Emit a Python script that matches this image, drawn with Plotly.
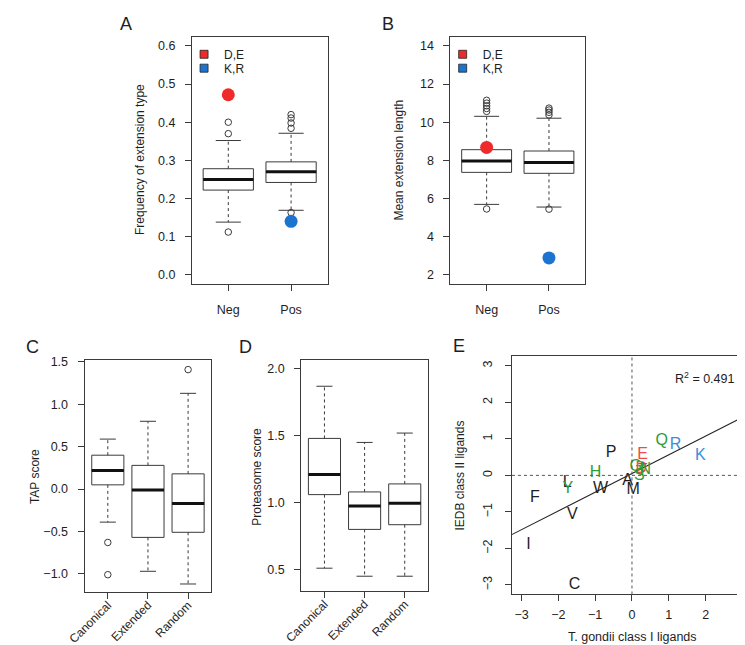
import numpy as np
import plotly.graph_objects as go

W, H = 745, 645
FONT = "Liberation Sans, Arial, Helvetica, sans-serif"
TXT = "#1e1e1e"
LINE = "#3a3a3a"
RED = "#EE2A2A"
BLUE = "#1C74CF"
GREEN = "#2E9B3B"
LRED = "#EF4A4A"
LBLUE = "#3A8EDD"
TICK_SIZE = 12.5

# ---------------- Panel A data ----------------
A_CATS = ["Neg", "Pos"]
A_Q1 = [0.222, 0.242]
A_MED = [0.250, 0.270]
A_Q3 = [0.278, 0.296]
A_LO = [0.138, 0.169]
A_HI = [0.352, 0.371]
A_OUT_CAT = [1, 1, 1, 2, 2, 2, 2, 2]
A_OUT_VAL = [0.112, 0.370, 0.400, 0.163, 0.384, 0.398, 0.411, 0.420]
A_DE_CAT, A_DE_VAL = [1], [0.472]
A_KR_CAT, A_KR_VAL = [2], [0.140]

# ---------------- Panel B data ----------------
B_CATS = ["Neg", "Pos"]
B_Q1 = [7.37, 7.32]
B_MED = [7.97, 7.89]
B_Q3 = [8.56, 8.49]
B_LO = [5.69, 5.55]
B_HI = [10.31, 10.21]
B_OUT_CAT = [1, 1, 1, 1, 1, 1, 2, 2, 2, 2, 2]
B_OUT_VAL = [5.45, 10.57, 10.72, 10.86, 11.0, 11.15, 5.44, 10.38, 10.52, 10.64, 10.74]
B_DE_CAT, B_DE_VAL = [1], [8.68]
B_KR_CAT, B_KR_VAL = [2], [2.88]

# ---------------- Panel C data ----------------
C_CATS = ["Canonical", "Extended", "Random"]
C_Q1 = [0.05, -0.57, -0.51]
C_MED = [0.22, -0.01, -0.17]
C_Q3 = [0.40, 0.28, 0.18]
C_LO = [-0.39, -0.97, -1.12]
C_HI = [0.59, 0.80, 1.13]
C_OUT_CAT = [1, 1, 3]
C_OUT_VAL = [-0.63, -1.01, 1.41]

# ---------------- Panel D data ----------------
D_CATS = ["Canonical", "Extended", "Random"]
D_Q1 = [1.06, 0.80, 0.835]
D_MED = [1.21, 0.975, 0.995]
D_Q3 = [1.48, 1.08, 1.14]
D_LO = [0.51, 0.45, 0.45]
D_HI = [1.87, 1.45, 1.52]

# ---------------- Panel E data ----------------
E_AA = ["Q", "R", "K", "E", "P", "G", "D", "N", "T", "S", "H", "A", "M", "W",
        "L", "Y", "F", "V", "I", "C"]
E_X = [0.81, 1.18, 1.86, 0.29, -0.57, 0.10, 0.25, 0.36, 0.28, 0.20, -0.99, -0.12,
       0.03, -0.85, -1.76, -1.74, -2.64, -1.62, -2.81, -1.56]
E_Y = [0.95, 0.83, 0.52, 0.57, 0.60, 0.23, 0.18, 0.16, 0.12, -0.02, 0.07, -0.15,
       -0.40, -0.36, -0.22, -0.37, -0.61, -1.08, -1.90, -2.99]
E_GROUP = ["polar", "basic", "basic", "acidic", "other", "polar", "acidic", "polar",
           "polar", "polar", "polar", "other", "other", "other", "other", "polar",
           "other", "other", "other", "other"]
E_FIT_INTERCEPT = 0.05
E_FIT_SLOPE = 0.512
E_R2 = 0.491

GROUP_COL = {"polar": GREEN, "basic": LBLUE, "acidic": LRED, "other": TXT}

# ---------------- layout geometry (pixels) ----------------
def xdom(l, r):
    return [l / W, r / W]


def ydom(t, b):
    return [1 - b / H, 1 - t / H]


PANELS = {
    "A": dict(x=(171, 310), y=(24, 273)),
    "B": dict(x=(436, 574), y=(24, 273)),
    "C": dict(x=(61, 191), y=(350, 584)),
    "D": dict(x=(283, 413), y=(350, 583)),
    "E": dict(x=(499, 745), y=(346, 586)),
}

fig = go.Figure()

BOX_HALF = 0.4
CAP_HALF = 0.2


def add_boxplot(xa, ya, q1, med, q3, lo, hi, out_cat=None, out_val=None):
    pos = list(range(1, len(q1) + 1))
    fig.add_trace(go.Box(
        x=pos, q1=q1, median=med, q3=q3, lowerfence=q1, upperfence=q3,
        width=2 * BOX_HALF, whiskerwidth=0, fillcolor="white",
        line=dict(color=LINE, width=1), boxpoints=False, showlegend=False,
        xaxis=xa, yaxis=ya, hoverinfo="skip"))
    # dashed whiskers
    wx, wy = [], []
    for p, a, b, c, d in zip(pos, q1, q3, lo, hi):
        wx += [p, p, None, p, p, None]
        wy += [b, d, None, a, c, None]
    fig.add_trace(go.Scatter(x=wx, y=wy, mode="lines", showlegend=False,
                             line=dict(color=LINE, width=1, dash="3px,3px"),
                             xaxis=xa, yaxis=ya, hoverinfo="skip"))
    # caps
    cx, cy = [], []
    for p, c, d in zip(pos, lo, hi):
        cx += [p - CAP_HALF, p + CAP_HALF, None, p - CAP_HALF, p + CAP_HALF, None]
        cy += [c, c, None, d, d, None]
    fig.add_trace(go.Scatter(x=cx, y=cy, mode="lines", showlegend=False,
                             line=dict(color=LINE, width=1),
                             xaxis=xa, yaxis=ya, hoverinfo="skip"))
    # thick medians
    mx, my = [], []
    for p, m in zip(pos, med):
        mx += [p - BOX_HALF, p + BOX_HALF, None]
        my += [m, m, None]
    fig.add_trace(go.Scatter(x=mx, y=my, mode="lines", showlegend=False,
                             line=dict(color="#111111", width=3),
                             xaxis=xa, yaxis=ya, hoverinfo="skip"))
    if out_cat:
        fig.add_trace(go.Scatter(x=out_cat, y=out_val, mode="markers", showlegend=False,
                                 marker=dict(symbol="circle-open", size=6.5,
                                             color=LINE, line=dict(width=1)),
                                 xaxis=xa, yaxis=ya, hoverinfo="skip"))


add_boxplot("x", "y", A_Q1, A_MED, A_Q3, A_LO, A_HI, A_OUT_CAT, A_OUT_VAL)
add_boxplot("x2", "y2", B_Q1, B_MED, B_Q3, B_LO, B_HI, B_OUT_CAT, B_OUT_VAL)
add_boxplot("x3", "y3", C_Q1, C_MED, C_Q3, C_LO, C_HI, C_OUT_CAT, C_OUT_VAL)
add_boxplot("x4", "y4", D_Q1, D_MED, D_Q3, D_LO, D_HI)

# highlighted dots + legends for A and B (one legend per entry for tight spacing)
for xa, ya, lde, lkr, dc, dv, kc, kv in [
        ("x", "y", "legend", "legend2", A_DE_CAT, A_DE_VAL, A_KR_CAT, A_KR_VAL),
        ("x2", "y2", "legend3", "legend4", B_DE_CAT, B_DE_VAL, B_KR_CAT, B_KR_VAL)]:
    fig.add_trace(go.Scatter(x=dc, y=dv, mode="markers", showlegend=False,
                             marker=dict(color=RED, size=13), xaxis=xa, yaxis=ya))
    fig.add_trace(go.Scatter(x=kc, y=kv, mode="markers", showlegend=False,
                             marker=dict(color=BLUE, size=13), xaxis=xa, yaxis=ya))
    fig.add_trace(go.Scatter(x=[None], y=[None], mode="markers", name="D,E", legend=lde,
                             marker=dict(symbol="square", color=RED, size=8,
                                         line=dict(color="#222", width=0.8)),
                             xaxis=xa, yaxis=ya))
    fig.add_trace(go.Scatter(x=[None], y=[None], mode="markers", name="K,R", legend=lkr,
                             marker=dict(symbol="square", color=BLUE, size=8,
                                         line=dict(color="#222", width=0.8)),
                             xaxis=xa, yaxis=ya))

# Panel E
E_XRANGE = [-3.26, 3.26]
E_YRANGE = [-3.26, 3.26]
fx = np.array(E_XRANGE) * 1.1
fig.add_trace(go.Scatter(x=fx, y=E_FIT_INTERCEPT + E_FIT_SLOPE * fx, mode="lines",
                         showlegend=False, line=dict(color="#222", width=1.1),
                         xaxis="x5", yaxis="y5", hoverinfo="skip"))
fig.add_trace(go.Scatter(x=E_X, y=E_Y, mode="text", text=E_AA, showlegend=False,
                         textfont=dict(family=FONT, size=16,
                                       color=[GROUP_COL[g] for g in E_GROUP]),
                         textposition="middle center", xaxis="x5", yaxis="y5"))
fig.add_shape(type="line", xref="x5", yref="y5 domain", x0=0, x1=0, y0=0, y1=1,
              line=dict(color="#555", width=1, dash="dot"))
fig.add_shape(type="line", xref="x5 domain", yref="y5", x0=0, x1=1, y0=0, y1=0,
              line=dict(color="#555", width=1, dash="dot"))

# ---------------- axes ----------------
def axis(dom, rng, anchor, **kw):
    d = dict(domain=dom, range=rng, anchor=anchor, showline=True, mirror=True,
             linecolor=LINE, linewidth=1, ticks="outside", ticklen=6, tickwidth=1,
             tickcolor=LINE, showgrid=False, zeroline=False,
             tickfont=dict(family=FONT, size=TICK_SIZE, color=TXT))
    d.update(kw)
    return d


pa, pb, pc, pd, pe = (PANELS[k] for k in "ABCDE")
lay = dict(
    xaxis=axis(xdom(*pa["x"]), [0.42, 2.58], "y", tickvals=[1, 2], ticktext=A_CATS,
               ticklabelstandoff=8),
    yaxis=axis(ydom(*pa["y"]), [-0.024, 0.624], "x",
               tickvals=[0, 0.1, 0.2, 0.3, 0.4, 0.5, 0.6], tickformat=".1f",
               ticklabelstandoff=7),
    xaxis2=axis(xdom(*pb["x"]), [0.42, 2.58], "y2", tickvals=[1, 2], ticktext=B_CATS,
                ticklabelstandoff=8),
    yaxis2=axis(ydom(*pb["y"]), [1.52, 14.48], "x2",
                tickvals=[2, 4, 6, 8, 10, 12, 14], ticklabelstandoff=7),
    xaxis3=axis(xdom(*pc["x"]), [0.42, 3.58], "y3", tickvals=[1, 2, 3],
                ticktext=C_CATS, tickangle=-45, ticklabelstandoff=-6,
                tickfont=dict(family=FONT, size=12, color=TXT)),
    yaxis3=axis(ydom(*pc["y"]), [-1.22, 1.52], "x3",
                tickvals=[-1.0, -0.5, 0.0, 0.5, 1.0, 1.5], tickformat=".1f",
                ticklabelstandoff=7),
    xaxis4=axis(xdom(*pd["x"]), [0.42, 3.58], "y4", tickvals=[1, 2, 3],
                ticktext=D_CATS, tickangle=-45, ticklabelstandoff=-6,
                tickfont=dict(family=FONT, size=12, color=TXT)),
    yaxis4=axis(ydom(*pd["y"]), [0.336, 2.064], "x4",
                tickvals=[0.5, 1.0, 1.5, 2.0], tickformat=".1f", ticklabelstandoff=7),
    xaxis5=axis(xdom(*pe["x"]), E_XRANGE, "y5", tickvals=[-3, -2, -1, 0, 1, 2, 3],
                ticklabelstandoff=3),
    yaxis5=axis(ydom(*pe["y"]), E_YRANGE, "x5", tickvals=[-3, -2, -1, 0, 1, 2, 3],
                tickangle=-90, ticklabelstandoff=8),
)

leg_common = dict(font=dict(family=FONT, size=12, color=TXT), bgcolor="rgba(0,0,0,0)",
                  borderwidth=0, xanchor="left", yanchor="top", itemwidth=30,
                  tracegroupgap=0)
lay["legend"] = dict(x=163 / W, y=1 - 27 / H, **leg_common)
lay["legend2"] = dict(x=163 / W, y=1 - 41 / H, **leg_common)
lay["legend3"] = dict(x=428 / W, y=1 - 27 / H, **leg_common)
lay["legend4"] = dict(x=428 / W, y=1 - 41 / H, **leg_common)

ann = []


def txt(x, y, s, size=12, angle=0):
    ann.append(dict(x=x / W, y=1 - y / H, xref="paper", yref="paper", text=s,
                    showarrow=False, textangle=angle,
                    font=dict(family=FONT, size=size, color=TXT),
                    xanchor="center", yanchor="middle"))


# panel letters
for s, x, y in [("A", 104, 11), ("B", 372, 11), ("C", 8, 337), ("D", 226, 337),
                ("E", 445, 336)]:
    txt(x, y, s, size=18)
# axis titles
txt(118, 148, "Frequency of extension type", angle=-90)
txt(383, 148, "Mean extension length", angle=-90)
txt(11, 467, "TAP score", angle=-90)
txt(238, 467, "Proteasome score", angle=-90)
txt(446, 466, "IEDB class II ligands", angle=-90)
txt(623, 629, "T. gondii class I ligands", size=12.5)

ann.append(dict(x=1.96, y=2.66, xref="x5", yref="y5",
                text="R<sup>2</sup> = " + f"{E_R2:.3f}", showarrow=False,
                font=dict(family=FONT, size=12.5, color=TXT)))

fig.update_layout(
    width=W, height=H, margin=dict(l=0, r=0, t=0, b=0),
    paper_bgcolor="white", plot_bgcolor="white",
    font=dict(family=FONT, color=TXT), boxmode="overlay",
    annotations=ann, showlegend=True, **lay)

fig.write_html("out.html")
